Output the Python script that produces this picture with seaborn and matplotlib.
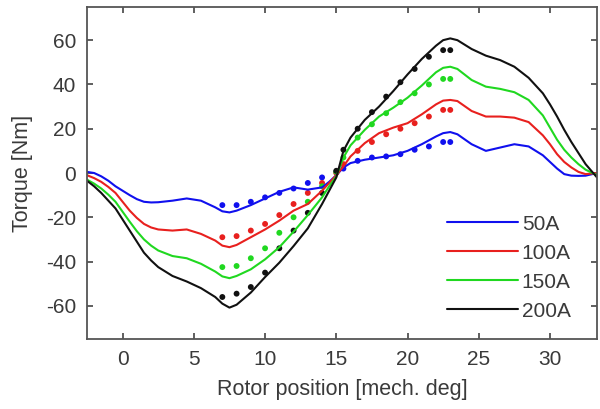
import numpy as np
import pandas as pd
import matplotlib
matplotlib.use("Agg")
import matplotlib.pyplot as plt
import seaborn as sns

# Simulated torque vs rotor position (lines), one array per phase current
pos_sim = [-2.5, -2, -1.5, -1, -0.5, 0, 0.5, 1, 1.5, 2, 2.5,
           3.5, 4.5, 5.5, 6.5, 7, 7.5, 8,
           9, 10, 11, 12, 13, 14, 14.5, 15, 15.5, 16,
           17, 18, 19, 20, 21, 22, 22.5, 23, 23.5,
           24.5, 25.5, 26.5, 27.5, 28.5, 29.5, 30, 30.5, 31, 31.5, 32, 32.5, 33.3]
sim_50A = [0.5, 0, -1.5, -3.5, -6, -8, -10, -11.8, -13, -13.3, -13.2,
           -12.5, -11.5, -12.5, -15.5, -17.3, -17.8, -17,
           -14.5, -11.5, -8.5, -6.5, -7.5, -6.5, -4, -1, 2.5, 4.5,
           6, 7, 8, 10, 13, 16.5, 18, 18.5, 17.5,
           13, 10, 11.5, 13, 12, 8, 5, 2, -0.5, -1.2, -1.3, -1.2, 0]
sim_100A = [-1, -2.3, -4, -6.3, -9, -13, -17, -20.3, -23, -24.6, -25.5,
            -26, -25.5, -27.5, -30.5, -32.8, -33.5, -32.5,
            -29, -25.5, -21.5, -17, -14, -8, -4.5, -1, 3, 7.5,
            13.5, 18, 20.5, 22.5, 26.5, 31, 32.7, 33, 32.5,
            28, 25.5, 25.5, 25, 23, 17, 13, 8.5, 5, 2.5, 0.5, -0.5, 0]
sim_150A = [-3, -4.8, -7, -9.8, -13, -17.5, -22, -26.3, -30, -32.8, -35,
            -37.5, -38.5, -41, -44.5, -46.7, -47.5, -46.5,
            -43.5, -39, -33.5, -26.5, -19, -11, -6, -1.5, 7, 12.5,
            19.5, 25.5, 29.5, 34, 39.5, 45.5, 47.5, 48, 47,
            42, 39, 38, 36.5, 33, 26, 20.5, 15, 10.5, 7, 4, 1.5, -1]
sim_200A = [-3.5, -6, -9, -12.5, -16, -21, -26, -31, -36, -39.5, -42.5,
            -46.5, -49, -52, -56, -59, -60.8, -59.5,
            -54, -47, -40.5, -33, -25, -14, -8, -2, 10, 16,
            24, 30, 37, 44.5, 51.5, 57.5, 60, 60.8, 60,
            56, 53, 51, 48, 43, 36, 31, 25.5, 19.5, 14, 9, 4, -2]

# Measured torque (dots)
pos_meas = [7, 8, 9, 10, 11, 12, 13, 14, 15, 15.5, 16.5, 17.5, 18.5, 19.5, 20.5, 21.5, 22.5, 23]
meas_50A = [-14.5, -14.5, -13, -11, -9, -7, -4.5, -2, 0.5, 2, 5.5, 7, 7.5, 8.5, 10.5, 12, 14, 14]
meas_100A = [-29, -28.5, -26, -23, -19, -14, -9, -4.5, 0, 4, 10, 14, 17.5, 20, 22.5, 25.5, 28.5, 28.5]
meas_150A = [-42.5, -42, -38.5, -34, -27, -20, -13, -6, 0.5, 7, 16, 22, 27, 32, 36, 40, 42.5, 42.5]
meas_200A = [-56, -54.5, -51.5, -45, -34, -26, -18, -9, 1, 10.5, 20, 27.5, 34.5, 41, 47, 52.5, 55.5, 55.5]

currents = ["50A", "100A", "150A", "200A"]
colors = ["#1010ee", "#e8201e", "#20d820", "#111111"]

sim = pd.concat([pd.DataFrame({"pos": pos_sim, "torque": v, "current": c})
                 for c, v in zip(currents, [sim_50A, sim_100A, sim_150A, sim_200A])])
meas = pd.concat([pd.DataFrame({"pos": pos_meas, "torque": v, "current": c})
                  for c, v in zip(currents, [meas_50A, meas_100A, meas_150A, meas_200A])])

sns.set_style("white", {
    "xtick.bottom": True, "xtick.top": True, "ytick.left": True, "ytick.right": True,
    "xtick.direction": "in", "ytick.direction": "in",
})
plt.rcParams["font.family"] = ["Liberation Sans", "DejaVu Sans"]
plt.rcParams["axes.unicode_minus"] = False

text_col = "#3a3a3a"
fig = plt.figure(figsize=(6, 4.09), dpi=100)
ax = fig.add_axes([0.145, 0.171, 0.85, 0.812])

palette = dict(zip(currents, colors))
sns.lineplot(data=sim, x="pos", y="torque", hue="current", hue_order=currents,
             palette=palette, linewidth=1.5, sort=False, estimator=None, ax=ax)
sns.scatterplot(data=meas, x="pos", y="torque", hue="current", hue_order=currents,
                palette=palette, s=18, edgecolor="none", legend=False, ax=ax)

ax.set_xlim(-2.5, 33.3)
ax.set_ylim(-75, 75)
ax.set_xticks(range(0, 31, 5))
ax.set_yticks(range(-60, 61, 20))
ax.set_xlabel("Rotor position [mech. deg]", fontsize=15.5, color=text_col, labelpad=7)
ax.set_ylabel("Torque [Nm]", fontsize=15.5, color=text_col, labelpad=9)
ax.tick_params(which="major", direction="in", length=4.5, width=1.2,
               bottom=True, left=True, top=True, right=True,
               labelsize=15, color="#444444", labelcolor=text_col, pad=8)
for sp in ax.spines.values():
    sp.set_color("#555555")
    sp.set_linewidth(1.3)

leg = ax.legend(loc="lower right", bbox_to_anchor=(0.965, 0.03), frameon=False,
                fontsize=15, handlelength=3.4, handletextpad=0.2, labelspacing=0.48,
                borderaxespad=0)
for t in leg.get_texts():
    t.set_color(text_col)

fig.savefig("out.png", dpi=100)
